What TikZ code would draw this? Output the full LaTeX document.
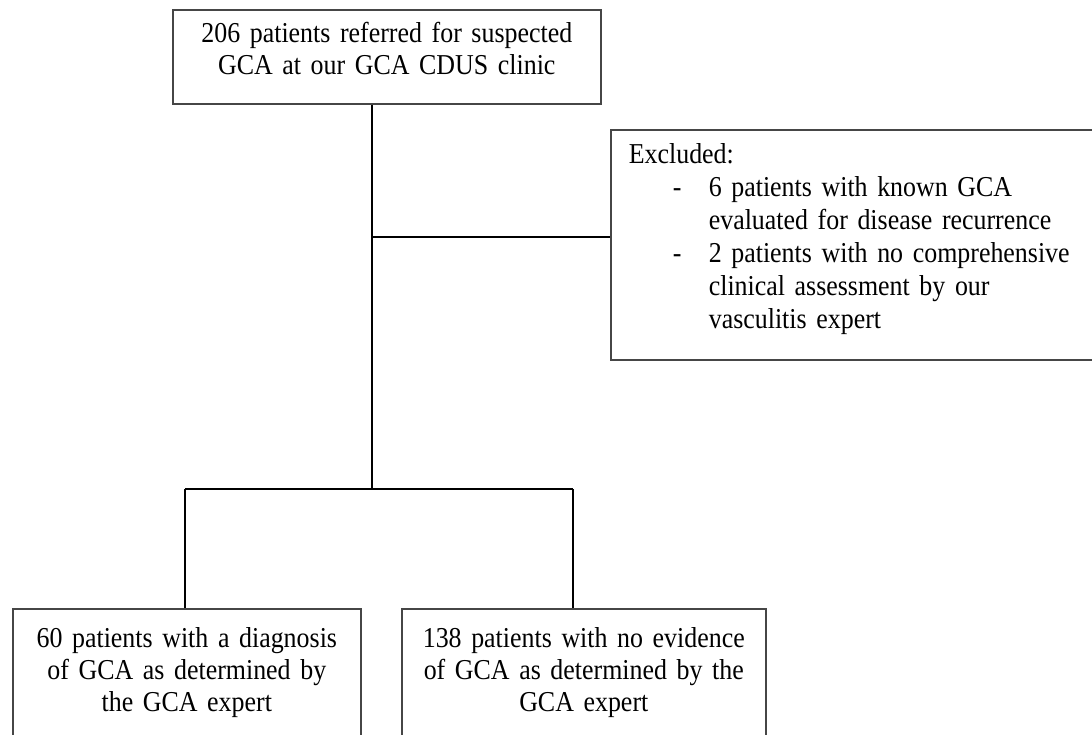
\documentclass[tikz,border=0pt]{standalone}
\usepackage{fontspec}
\setmainfont{Liberation Serif}[FakeStretch=0.9, WordSpace=0.8]
\tikzset{
	flowbox/.style={draw=gray!55!black, line width=0.8pt, inner xsep=0pt, text height=12pt, font=\fontsize{14.4}{16}\selectfont, anchor=north west},
	link/.style={line width=1pt, black}
}
\newcommand{\exclitem}[1]{\hspace*{22pt}\makebox[18pt][l]{-}#1}
\newcommand{\exclcont}[1]{\hspace*{40pt}#1}
\begin{document}
\begin{tikzpicture}[x=0.5pt,y=-0.5pt]
		\useasboundingbox (0,0) rectangle (1092,734);
		\clip (0,0) rectangle (1092,734);
		% Kasten oben
		\node [flowbox, inner ysep=4.5pt, text width=214pt, align=center, text depth=26pt] (referred) at (172,9) {206 patients referred for suspected\\GCA at our GCA CDUS clinic};
		% Ausgeschlossen
		\node [flowbox, inner xsep=9pt, inner ysep=5pt, text width=232pt, align=left, text depth=93pt, font=\fontsize{14.4}{16.5}\selectfont] (excluded) at (610,129) {Excluded:\\\exclitem{6 patients with known GCA}\\\exclcont{evaluated for disease recurrence}\\\exclitem{2 patients with no comprehensive}\\\exclcont{clinical assessment by our}\\\exclcont{vasculitis expert}};
		% Kaesten unten
		\node [flowbox, inner ysep=7.5pt, text width=174pt, align=center, text depth=49pt] (positive) at (12,608) {60 patients with a diagnosis\\of GCA as determined by\\the GCA expert};
		\node [flowbox, inner ysep=7.5pt, text width=182pt, align=center, text depth=49pt] (negative) at (401,608) {138 patients with no evidence\\of GCA as determined by the\\GCA expert};
		% Linien
		\coordinate (excl) at (372,237);
		\coordinate (split) at (372,489);
		\coordinate (lbr) at (185,489);
		\coordinate (rbr) at (573,489);
		\draw [link] (referred.south -| split) -- (split);
		\draw [link] (excl) -- (excl -| excluded.west);
		\draw [link] (lbr) -- (rbr);
		\draw [link] (lbr) -- (lbr |- positive.north);
		\draw [link] (rbr) -- (rbr |- negative.north);
\end{tikzpicture}
\end{document}
